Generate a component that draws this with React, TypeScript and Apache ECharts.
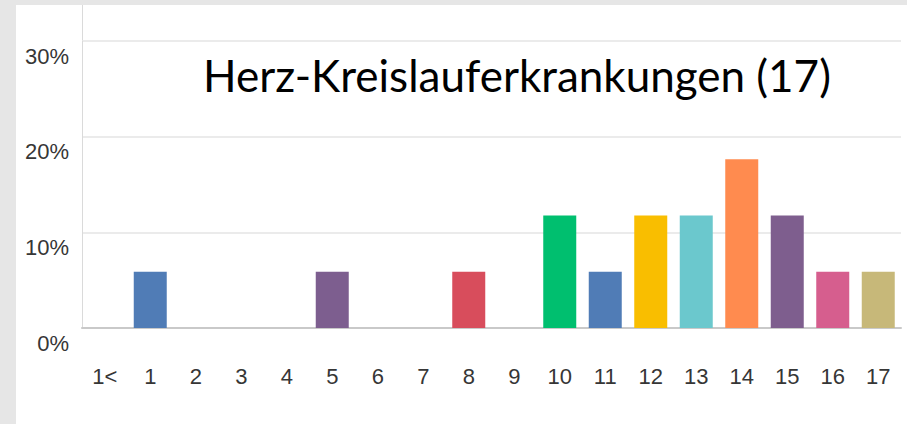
import React, { useEffect, useRef } from "react";
import * as echarts from "echarts";

const categories = ["1<", "1", "2", "3", "4", "5", "6", "7", "8", "9", "10", "11", "12", "13", "14", "15", "16", "17"];
const values = [0, 5.88, 0, 0, 0, 5.88, 0, 0, 5.88, 0, 11.76, 5.88, 11.76, 11.76, 17.65, 11.76, 5.88, 5.88];
const barColors = [
  "#507cb6", "#507cb6", "#507cb6", "#507cb6", "#507cb6", "#7d5e8f", "#507cb6", "#507cb6", "#d84d5c",
  "#507cb6", "#00bf6f", "#507cb6", "#f9be00", "#6bc8cd", "#ff8b4f", "#7e5e8e", "#d65e8e", "#c7b879",
];
const yTicks = { min: 0, max: 30, interval: 10 };
const titleText = "Herz-Kreislauferkrankungen (17)";

const labelFont = "'Liberation Sans', Arial, sans-serif";

export default function App() {
  const ref = useRef<HTMLDivElement>(null);
  useEffect(() => {
    if (!ref.current) return;
    const chart = echarts.init(ref.current, null, { renderer: "svg" });
    chart.setOption({
      animation: false,
      backgroundColor: "#ffffff",
      grid: { left: 66, right: 6, top: 36, bottom: 96, containLabel: false },
      xAxis: {
        type: "category",
        data: categories,
        boundaryGap: true,
        axisTick: { show: false },
        axisLine: { show: true, lineStyle: { color: "#c9c9c9", width: 2 } },
        axisLabel: { color: "#363636", fontSize: 22, fontFamily: labelFont, margin: 37, interval: 0 },
        splitLine: { show: false },
      },
      yAxis: {
        type: "value",
        min: yTicks.min,
        max: yTicks.max,
        interval: yTicks.interval,
        axisLine: { show: true, lineStyle: { color: "#dadada", width: 1 } },
        axisTick: { show: false },
        axisLabel: {
          formatter: "{value}%",
          color: "#363636",
          fontSize: 22,
          fontFamily: labelFont,
          margin: 13,
          verticalAlign: "top",
          lineHeight: 30,
        },
        splitLine: { show: true, lineStyle: { color: "#ebebeb", width: 2 } },
      },
      graphic: [
        {
          type: "line",
          shape: { x1: 66.5, y1: 0, x2: 66.5, y2: 36 },
          style: { stroke: "#dadada", lineWidth: 1 },
        },
        {
          type: "text",
          left: 187,
          top: 48,
          style: {
            text: titleText,
            fontSize: 44,
            fontFamily: "Lato, 'Open Sans', sans-serif",
            fill: "#000",
          },
        },
      ],
      series: [
        {
          type: "bar",
          barWidth: 33,
          data: values.map((v, i) => ({ value: v, itemStyle: { color: barColors[i] } })),
        },
      ],
    });
    return () => chart.dispose();
  }, []);
  return (
    <div style={{ position: "absolute", left: 0, top: 0, width: 907, height: 424, background: "#e6e6e6" }}>
      <div style={{ position: "absolute", left: 16, top: 5, width: 891, height: 419, background: "#fff" }}>
        <div ref={ref} style={{ width: 891, height: 419 }} />
      </div>
    </div>
  );
}
